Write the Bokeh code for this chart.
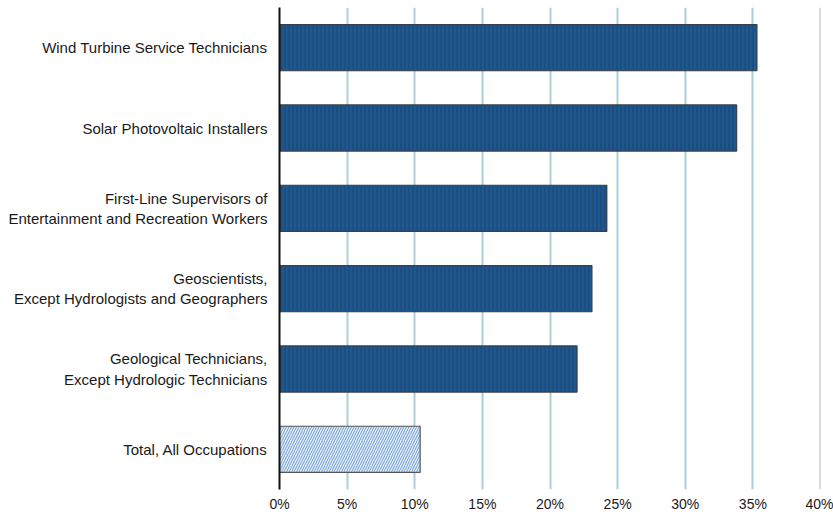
from bokeh.plotting import figure
from bokeh.models import ColumnDataSource, FactorRange, Range1d, NumeralTickFormatter, FixedTicker, Span
from bokeh.embed import file_html
from bokeh.resources import INLINE

occupations = [
    "Wind Turbine Service Technicians",
    "Solar Photovoltaic Installers",
    "First-Line Supervisors of\nEntertainment and Recreation Workers",
    "Geoscientists,\nExcept Hydrologists and Geographers",
    "Geological Technicians,\nExcept Hydrologic Technicians",
    "Total, All Occupations",
]
growth = [0.353, 0.338, 0.242, 0.231, 0.220, 0.104]
tick_values = [0, 0.05, 0.10, 0.15, 0.20, 0.25, 0.30, 0.35, 0.40]

factors = list(reversed(occupations))

p = figure(width=833, height=514, y_range=FactorRange(factors=factors, range_padding=0),
           x_range=Range1d(0, 0.40), output_backend="svg", toolbar_location=None,
           min_border_left=279, min_border_right=13, min_border_top=7, min_border_bottom=10)
p.outline_line_color = None

main = ColumnDataSource(dict(y=occupations[:-1], right=growth[:-1]))
total = ColumnDataSource(dict(y=occupations[-1:], right=growth[-1:]))

p.hbar(y="y", right="right", left=0, height=0.575, source=main,
       fill_color="#1b4e82", line_color="#3a3f4a", line_width=1.2,
       hatch_pattern="|", hatch_color="#2b6a9c", hatch_scale=4, hatch_weight=1, hatch_alpha=0.7)
p.hbar(y="y", right="right", left=0, height=0.575, source=total,
       fill_color="#e4eef8", line_color="#555555", line_width=1.2,
       hatch_pattern="/", hatch_color="#6b9bd0", hatch_scale=5, hatch_weight=1)

p.xgrid.ticker = FixedTicker(ticks=tick_values[:-1])
p.xgrid.grid_line_color = "#a9d0d6"
p.xgrid.grid_line_width = 2
p.ygrid.grid_line_color = None
p.add_layout(Span(location=0.40, dimension="height", line_color="#b8b8b8", line_width=2))

p.xaxis.ticker = FixedTicker(ticks=tick_values)
p.xaxis.formatter = NumeralTickFormatter(format="0%")
p.xaxis.axis_line_color = None
p.xaxis.major_tick_line_color = None
p.xaxis.major_tick_out = 0
p.xaxis.major_tick_in = 0
p.xaxis.minor_tick_line_color = None
p.xaxis.major_label_text_font = "Liberation Sans"
p.xaxis.major_label_text_font_size = "14px"
p.xaxis.major_label_text_color = "#1a1a1a"
p.xaxis.major_label_standoff = 6

p.yaxis.axis_line_color = "#111111"
p.yaxis.axis_line_width = 2
p.yaxis.major_tick_line_color = None
p.yaxis.major_tick_out = 0
p.yaxis.major_tick_in = 0
p.yaxis.minor_tick_line_color = None
p.yaxis.major_label_text_font = "Liberation Sans"
p.yaxis.major_label_text_font_size = "15px"
p.yaxis.major_label_text_color = "#1a1a1a"
p.yaxis.major_label_standoff = 12
p.yaxis.major_label_text_align = "center"

open("out.html", "w").write(file_html(p, INLINE))
